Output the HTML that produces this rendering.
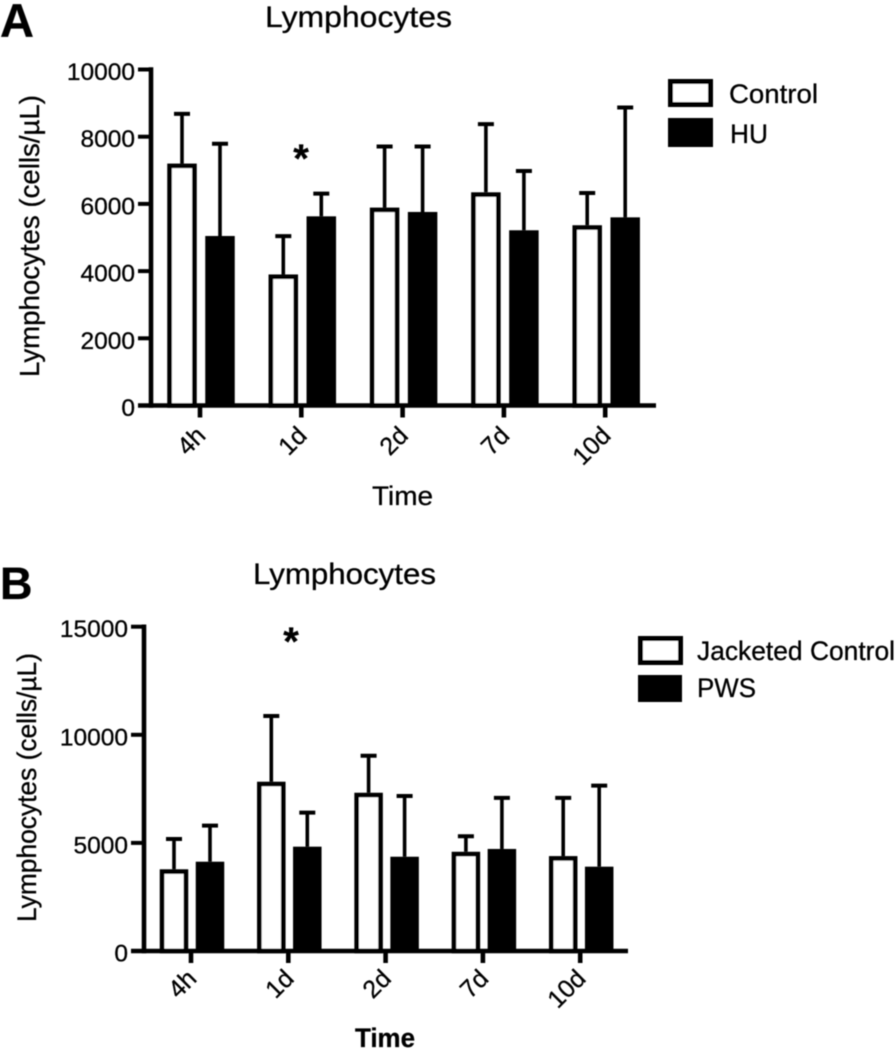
<!DOCTYPE html>
<html>
<head>
<meta charset="utf-8">
<title>Lymphocytes</title>
<style>
html,body{margin:0;padding:0;background:#fff;}
svg{display:block;}
text{font-family:"Liberation Sans",sans-serif;fill:#000;stroke:#000;stroke-width:0.3px;}
</style>
</head>
<body>
<svg id="figure" width="896" height="1050" viewBox="0 0 896 1050" xmlns="http://www.w3.org/2000/svg">
<defs><filter id="soft" x="-5%" y="-5%" width="110%" height="110%"><feGaussianBlur stdDeviation="0.6"/></filter></defs>
<g id="root" filter="url(#soft)">
  <text x="0" y="37" font-size="47" font-weight="bold">A</text>
  <text x="0" y="599" font-size="45" font-weight="bold">B</text>
  <text x="265" y="27" font-size="30" textLength="187" lengthAdjust="spacingAndGlyphs">Lymphocytes</text>
  <text x="253" y="584" font-size="30" textLength="183" lengthAdjust="spacingAndGlyphs">Lymphocytes</text>
  <text transform="translate(39,377) rotate(-90)" font-size="28" textLength="282" lengthAdjust="spacingAndGlyphs">Lymphocytes (cells/µL)</text>
  <text transform="translate(36,922) rotate(-90)" font-size="27" textLength="269" lengthAdjust="spacingAndGlyphs">Lymphocytes (cells/µL)</text>
  <text x="372" y="505" font-size="27" textLength="61" lengthAdjust="spacingAndGlyphs">Time</text>
  <text x="355" y="1047" font-size="27" font-weight="bold" textLength="60" lengthAdjust="spacingAndGlyphs">Time</text>
  <text x="301" y="172" font-size="40" font-weight="bold" text-anchor="middle">*</text>
  <text x="291" y="655" font-size="40" font-weight="bold" text-anchor="middle">*</text>

  <g>
    <rect x="670.5" y="81.5" width="40" height="23" fill="#fff" stroke="#000" stroke-width="5"/>
    <text x="729" y="103" font-size="27" textLength="89" lengthAdjust="spacingAndGlyphs">Control</text>
    <rect x="668" y="118" width="45" height="29" fill="#000"/>
    <text x="730" y="143" font-size="27" textLength="38" lengthAdjust="spacingAndGlyphs">HU</text>
  </g>
  <g>
    <rect x="640.5" y="638.5" width="40" height="24" fill="#fff" stroke="#000" stroke-width="5"/>
    <text x="697" y="660" font-size="27" textLength="198" lengthAdjust="spacingAndGlyphs">Jacketed Control</text>
    <rect x="638" y="675" width="44" height="27" fill="#000"/>
    <text x="697" y="697" font-size="27" textLength="59" lengthAdjust="spacingAndGlyphs">PWS</text>
  </g>
</g>
</svg>
<script>
const categories = ['4h', '1d', '2d', '7d', '10d'];

const aTicks = [0, 2000, 4000, 6000, 8000, 10000];
const aControl = [7200, 3900, 5890, 6345, 5365];
const aControlUpper = [8680, 5040, 7710, 8375, 6325];
const aHU = [5045, 5630, 5760, 5215, 5600];
const aHUUpper = [7790, 6305, 7710, 6980, 8870];

const bTicks = [0, 5000, 10000, 15000];
const bControl = [3780, 7830, 7320, 4590, 4390];
const bControlUpper = [5180, 10870, 9030, 5310, 7080];
const bPWS = [4130, 4825, 4360, 4720, 3900];
const bPWSUpper = [5800, 6400, 7170, 7080, 7650];

const NS = 'http://www.w3.org/2000/svg';
const root = document.getElementById('root');

function shape(parent, tag) {
  const el = document.createElementNS(NS, tag);
  parent.appendChild(el);
  return el;
}
function line(parent, x1, y1, x2, y2, w) {
  const el = shape(parent, 'line');
  el.setAttribute('x1', x1);
  el.setAttribute('y1', y1);
  el.setAttribute('x2', x2);
  el.setAttribute('y2', y2);
  el.setAttribute('stroke', '#000');
  el.setAttribute('stroke-width', w);
  return el;
}

function drawPanel(p) {
  const g = shape(root, 'g');
  
  
  const yScale = v => p.y0 - (v / p.yMax) * (p.y0 - p.yTop);
  const xScale = i => p.x0 + i * p.step;

  p.series.forEach(s => {
    s.values.forEach((v, i) => {
      const cx = xScale(i) + s.offset;
      const top = yScale(v);
      const cap = yScale(s.upper[i]);

      const whisker = line(g, cx, top, cx, cap, 3.6);
      
      

      const capLine = line(g, cx - 8, cap, cx + 8, cap, 4);
      
      

      const bar = shape(g, 'rect');
      
      
      const inset = s.filled ? 0 : 2.3;
      bar.setAttribute('x', cx - p.barW / 2 + inset);
      bar.setAttribute('y', top + inset);
      bar.setAttribute('width', p.barW - 2 * inset);
      bar.setAttribute('height', Math.max(0, p.y0 - top - inset));
      bar.setAttribute('fill', s.filled ? '#000' : '#fff');
      if (!s.filled) {
        bar.setAttribute('stroke', '#000');
        bar.setAttribute('stroke-width', 4.6);
      }
    });
  });

  const yAxis = line(g, p.axisX, p.yTop - 2.2, p.axisX, p.y0 + 2.2, 4.6);
  
  

  const xAxis = line(g, p.tickLeft, p.y0, p.xEnd, p.y0, 4.6);
  
  

  p.ticks.forEach(t => {
    const y = yScale(t);
    const tick = line(g, p.tickLeft, y, p.axisX, y, 4);
    
    

    const label = shape(g, 'text');
    
    
    label.setAttribute('x', p.tickLeft - 3);
    label.setAttribute('y', y + 10.5);
    label.setAttribute('font-size', 24.5);
    label.setAttribute('text-anchor', 'end');
    label.textContent = t;
  });

  categories.forEach((c, i) => {
    const x = xScale(i);
    const tick = line(g, x, p.y0, x, p.y0 + 12, 4.6);
    
    

    const label = shape(g, 'text');
    
    
    label.setAttribute('font-size', 25);
    label.setAttribute('text-anchor', 'end');
    label.setAttribute('transform', 'translate(' + (x + 7) + ',' + p.labelY + ') rotate(-45)');
    label.textContent = c;
  });
}

drawPanel({
  y0: 405.5, yTop: 69.5, yMax: 10000, axisX: 151, tickLeft: 138, xEnd: 656,
  x0: 200, step: 101.3, barW: 29.5, labelY: 437, ticks: aTicks,
  series: [
    { values: aControl, upper: aControlUpper, offset: -18, filled: false },
    { values: aHU, upper: aHUUpper, offset: 20, filled: true }
  ]
});
drawPanel({
  y0: 951, yTop: 626.7, yMax: 15000, axisX: 144, tickLeft: 131, xEnd: 628,
  x0: 191, step: 97.3, barW: 28.5, labelY: 980, ticks: bTicks,
  series: [
    { values: bControl, upper: bControlUpper, offset: -17, filled: false },
    { values: bPWS, upper: bPWSUpper, offset: 19, filled: true }
  ]
});
</script>
</body>
</html>
